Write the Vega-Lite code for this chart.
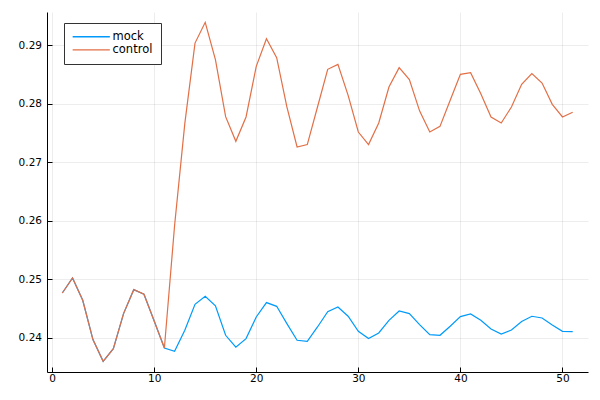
{
  "$schema": "https://vega.github.io/schema/vega-lite/v6.json",
  "width": 541,
  "height": 360,
  "autosize": {"type": "none"},
  "padding": {"left": 47, "top": 12, "right": 12, "bottom": 28},
  "background": "white",
  "config": {
    "view": {"stroke": null},
    "font": "DejaVu Sans",
    "axis": {
      "grid": true,
      "gridColor": "#000000",
      "gridOpacity": 0.07,
      "gridWidth": 1,
      "domainColor": "#000000",
      "domainWidth": 1,
      "tickColor": "#000000",
      "tickSize": -5,
      "labelFontSize": 10.5,
      "labelColor": "#000000",
      "labelFont": "DejaVu Sans",
      "title": null
    }
  },
  "data": {
    "values": [
      {"x": 1, "series": "mock", "value": 0.24766},
      {"x": 2, "series": "mock", "value": 0.25022},
      {"x": 3, "series": "mock", "value": 0.24641},
      {"x": 4, "series": "mock", "value": 0.23969},
      {"x": 5, "series": "mock", "value": 0.23598},
      {"x": 6, "series": "mock", "value": 0.23815},
      {"x": 7, "series": "mock", "value": 0.24413},
      {"x": 8, "series": "mock", "value": 0.24823},
      {"x": 9, "series": "mock", "value": 0.24744},
      {"x": 10, "series": "mock", "value": 0.24288},
      {"x": 11, "series": "mock", "value": 0.23826},
      {"x": 12, "series": "mock", "value": 0.23769},
      {"x": 13, "series": "mock", "value": 0.24128},
      {"x": 14, "series": "mock", "value": 0.24573},
      {"x": 15, "series": "mock", "value": 0.24709},
      {"x": 16, "series": "mock", "value": 0.24547},
      {"x": 17, "series": "mock", "value": 0.24043},
      {"x": 18, "series": "mock", "value": 0.23838},
      {"x": 19, "series": "mock", "value": 0.23986},
      {"x": 20, "series": "mock", "value": 0.24356},
      {"x": 21, "series": "mock", "value": 0.24602},
      {"x": 22, "series": "mock", "value": 0.24538},
      {"x": 23, "series": "mock", "value": 0.24242},
      {"x": 24, "series": "mock", "value": 0.23957},
      {"x": 25, "series": "mock", "value": 0.2394},
      {"x": 26, "series": "mock", "value": 0.24185},
      {"x": 27, "series": "mock", "value": 0.24447},
      {"x": 28, "series": "mock", "value": 0.24527},
      {"x": 29, "series": "mock", "value": 0.24368},
      {"x": 30, "series": "mock", "value": 0.24111},
      {"x": 31, "series": "mock", "value": 0.23986},
      {"x": 32, "series": "mock", "value": 0.24082},
      {"x": 33, "series": "mock", "value": 0.24299},
      {"x": 34, "series": "mock", "value": 0.24458},
      {"x": 35, "series": "mock", "value": 0.24413},
      {"x": 36, "series": "mock", "value": 0.24225},
      {"x": 37, "series": "mock", "value": 0.24054},
      {"x": 38, "series": "mock", "value": 0.24043},
      {"x": 39, "series": "mock", "value": 0.24197},
      {"x": 40, "series": "mock", "value": 0.24362},
      {"x": 41, "series": "mock", "value": 0.24407},
      {"x": 42, "series": "mock", "value": 0.24299},
      {"x": 43, "series": "mock", "value": 0.24151},
      {"x": 44, "series": "mock", "value": 0.24065},
      {"x": 45, "series": "mock", "value": 0.24133},
      {"x": 46, "series": "mock", "value": 0.24277},
      {"x": 47, "series": "mock", "value": 0.24368},
      {"x": 48, "series": "mock", "value": 0.24339},
      {"x": 49, "series": "mock", "value": 0.24219},
      {"x": 50, "series": "mock", "value": 0.24111},
      {"x": 51, "series": "mock", "value": 0.24106},
      {"x": 1, "series": "control", "value": 0.24766},
      {"x": 2, "series": "control", "value": 0.25022},
      {"x": 3, "series": "control", "value": 0.24641},
      {"x": 4, "series": "control", "value": 0.23969},
      {"x": 5, "series": "control", "value": 0.23598},
      {"x": 6, "series": "control", "value": 0.23815},
      {"x": 7, "series": "control", "value": 0.24413},
      {"x": 8, "series": "control", "value": 0.24823},
      {"x": 9, "series": "control", "value": 0.24744},
      {"x": 10, "series": "control", "value": 0.24288},
      {"x": 11, "series": "control", "value": 0.23826},
      {"x": 12, "series": "control", "value": 0.2592},
      {"x": 13, "series": "control", "value": 0.27662},
      {"x": 14, "series": "control", "value": 0.29039},
      {"x": 15, "series": "control", "value": 0.29393},
      {"x": 16, "series": "control", "value": 0.28756},
      {"x": 17, "series": "control", "value": 0.2778},
      {"x": 18, "series": "control", "value": 0.27359},
      {"x": 19, "series": "control", "value": 0.27775},
      {"x": 20, "series": "control", "value": 0.28641},
      {"x": 21, "series": "control", "value": 0.29114},
      {"x": 22, "series": "control", "value": 0.2879},
      {"x": 23, "series": "control", "value": 0.27946},
      {"x": 24, "series": "control", "value": 0.27262},
      {"x": 25, "series": "control", "value": 0.27303},
      {"x": 26, "series": "control", "value": 0.27946},
      {"x": 27, "series": "control", "value": 0.2859},
      {"x": 28, "series": "control", "value": 0.28675},
      {"x": 29, "series": "control", "value": 0.28145},
      {"x": 30, "series": "control", "value": 0.27518},
      {"x": 31, "series": "control", "value": 0.27303},
      {"x": 32, "series": "control", "value": 0.27672},
      {"x": 33, "series": "control", "value": 0.28287},
      {"x": 34, "series": "control", "value": 0.28619},
      {"x": 35, "series": "control", "value": 0.28414},
      {"x": 36, "series": "control", "value": 0.2788},
      {"x": 37, "series": "control", "value": 0.27518},
      {"x": 38, "series": "control", "value": 0.27615},
      {"x": 39, "series": "control", "value": 0.2806},
      {"x": 40, "series": "control", "value": 0.28504},
      {"x": 41, "series": "control", "value": 0.28533},
      {"x": 42, "series": "control", "value": 0.28174},
      {"x": 43, "series": "control", "value": 0.27775},
      {"x": 44, "series": "control", "value": 0.27672},
      {"x": 45, "series": "control", "value": 0.27946},
      {"x": 46, "series": "control", "value": 0.28333},
      {"x": 47, "series": "control", "value": 0.28516},
      {"x": 48, "series": "control", "value": 0.28356},
      {"x": 49, "series": "control", "value": 0.27991},
      {"x": 50, "series": "control", "value": 0.27775},
      {"x": 51, "series": "control", "value": 0.27855}
    ]
  },
  "mark": {"type": "line", "strokeWidth": 1.2, "clip": true},
  "encoding": {
    "x": {
      "field": "x",
      "type": "quantitative",
      "scale": {"domain": [-0.5, 52.5], "nice": false, "zero": false},
      "axis": {"values": [0, 10, 20, 30, 40, 50], "labelPadding": 6}
    },
    "y": {
      "field": "value",
      "type": "quantitative",
      "scale": {"domain": [0.23415, 0.2957], "nice": false, "zero": false},
      "axis": {"values": [0.24, 0.25, 0.26, 0.27, 0.28, 0.29], "format": ".2f", "labelPadding": 10.5}
    },
    "color": {
      "field": "series",
      "type": "nominal",
      "scale": {"domain": ["mock", "control"], "range": ["#009AFA", "#E26F46"]},
      "legend": {
        "title": null,
        "orient": "none",
        "legendX": 17,
        "legendY": 11,
        "direction": "vertical",
        "symbolType": "M-6.2,0H6.2",
        "symbolSize": 36,
        "symbolStrokeWidth": 1.3,
        "symbolOffset": 13.5,
        "labelFontSize": 11.5,
        "labelFont": "DejaVu Sans",
        "labelColor": "#000000",
        "padding": 8,
        "rowPadding": 0.2,
        "labelOffset": 15.5,
        "strokeColor": "#333333",
        "fillColor": "#ffffff",
        "cornerRadius": 0
      }
    },
    "order": {"field": "x", "type": "quantitative"}
  }
}
